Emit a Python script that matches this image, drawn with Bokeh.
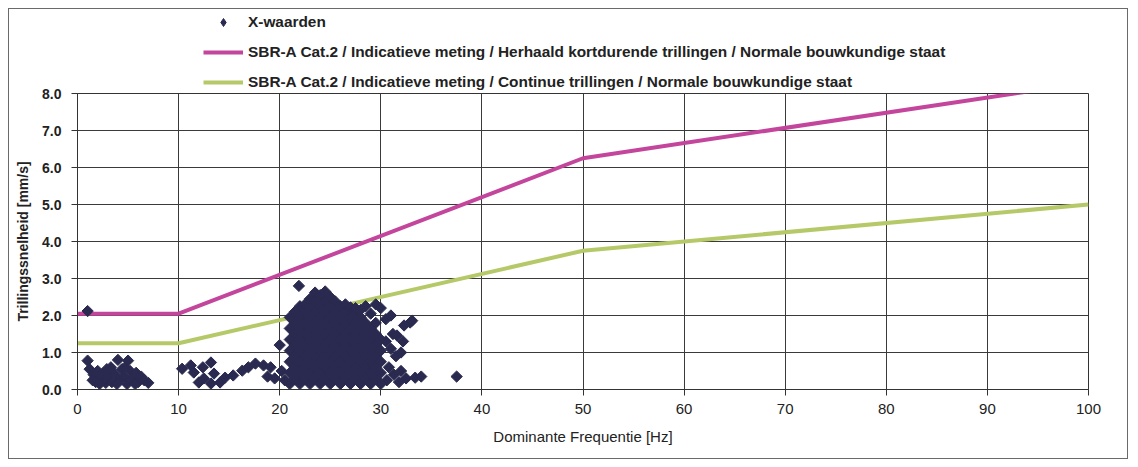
import math
from bokeh.plotting import figure
from bokeh.layouts import column
from bokeh.models import Legend, LegendItem, FixedTicker, NumeralTickFormatter, Range1d
from bokeh.embed import file_html
from bokeh.resources import INLINE

# Scatter data: dominant frequency [Hz], velocity [mm/s]
low_freq = [1.0, 1.0, 1.2, 1.6, 1.8, 2.0, 2.3, 2.6, 2.8, 3.0, 3.3, 3.4, 3.7, 4.0, 4.1, 4.4,
            4.6, 4.9, 5.0, 5.2, 5.5, 5.8, 6.0, 6.3, 6.6, 7.0, 2.2, 3.9, 5.7, 1.5, 2.9, 4.7]
low_vel = [2.12, 0.78, 0.55, 0.40, 0.20, 0.50, 0.30, 0.45, 0.18, 0.35, 0.60, 0.20, 0.42, 0.80, 0.25, 0.55,
           0.35, 0.15, 0.78, 0.50, 0.30, 0.45, 0.20, 0.35, 0.25, 0.18, 0.15, 0.15, 0.15, 0.25, 0.55, 0.60]

mid_freq = [10.35, 11.2, 11.5, 12.4, 13.2, 12.5, 13.5, 14.1, 14.6, 15.4, 16.3, 16.9, 17.6,
            18.4, 19.1, 12.0, 13.2, 18.8, 19.5, 20.2, 20.5, 20.0]
mid_vel = [0.56, 0.65, 0.46, 0.60, 0.73, 0.30, 0.43, 0.19, 0.32, 0.38, 0.51, 0.60, 0.70,
           0.65, 0.60, 0.19, 0.16, 0.35, 0.30, 0.50, 0.25, 1.20]

# Dense cluster, column by column: (frequency, velocities)
cluster = [
    (21.0, [0.15, 0.45, 0.75, 1.05, 1.35, 1.65, 1.95]),
    (21.5, [0.30, 0.60, 0.90, 1.20, 1.50, 1.80, 2.10]),
    (21.9, [2.80]),
    (22.0, [0.15, 0.45, 0.75, 1.05, 1.35, 1.65, 1.95, 2.25]),
    (22.5, [0.30, 0.60, 0.90, 1.20, 1.50, 1.80, 2.10, 2.30]),
    (23.0, [0.15, 0.45, 0.75, 1.05, 1.35, 1.65, 1.95, 2.25, 2.45]),
    (23.5, [0.30, 0.60, 0.90, 1.20, 1.50, 1.80, 2.10, 2.40, 2.62]),
    (24.0, [0.15, 0.45, 0.75, 1.05, 1.35, 1.65, 1.95, 2.25, 2.55]),
    (24.5, [0.30, 0.60, 0.90, 1.20, 1.50, 1.80, 2.10, 2.40, 2.65]),
    (25.0, [0.15, 0.45, 0.75, 1.05, 1.35, 1.65, 1.95, 2.25, 2.50]),
    (25.5, [0.30, 0.60, 0.90, 1.20, 1.50, 1.80, 2.10, 2.38]),
    (26.0, [0.15, 0.45, 0.75, 1.05, 1.35, 1.65, 1.95, 2.25]),
    (26.5, [0.30, 0.60, 0.90, 1.20, 1.50, 1.80, 2.10, 2.30]),
    (27.0, [0.15, 0.45, 0.75, 1.05, 1.35, 1.65, 1.95, 2.22]),
    (27.5, [0.30, 0.60, 0.90, 1.20, 1.50, 1.80, 2.10, 2.20]),
    (28.0, [0.15, 0.45, 0.75, 1.05, 1.35, 1.65, 1.95, 2.15]),
    (28.5, [0.30, 0.60, 0.90, 1.20, 1.50, 1.80, 2.25]),
    (29.0, [0.15, 0.45, 0.75, 1.05, 1.35, 1.65, 2.05]),
    (29.5, [0.30, 0.60, 0.90, 1.20, 1.50, 1.80, 2.30]),
    (30.0, [0.15, 0.45, 0.75, 1.05, 1.35, 2.20]),
]

high_freq = [30.5, 31.0, 31.2, 31.6, 32.9, 33.1, 32.3, 31.0, 31.5, 32.0, 30.8, 31.3, 32.0,
             32.5, 33.4, 34.0, 30.6, 31.8, 30.5, 32.2, 37.5]
high_vel = [1.90, 2.00, 1.50, 1.46, 1.81, 1.86, 1.73, 1.10, 0.90, 1.00, 0.60, 0.40, 0.50,
            0.30, 0.32, 0.35, 0.25, 0.20, 1.30, 1.30, 0.35]

# Guide lines (SBR-A Cat.2)
line_freq = [0, 10, 50, 100]
herhaald = [2.05, 2.05, 6.25, 8.3]
continue_ = [1.25, 1.25, 3.75, 5.0]

x_ticks = [0, 10, 20, 30, 40, 50, 60, 70, 80, 90, 100]
y_ticks = [0, 1, 2, 3, 4, 5, 6, 7, 8]

label_x = "X-waarden"
label_h = "SBR-A Cat.2 / Indicatieve meting / Herhaald kortdurende trillingen / Normale bouwkundige staat"
label_c = "SBR-A Cat.2 / Indicatieve meting / Continue trillingen / Normale bouwkundige staat"

freq = low_freq + mid_freq + high_freq
velocity = low_vel + mid_vel + high_vel
for fx, ys in cluster:
    for vy in ys:
        freq.append(fx)
        velocity.append(vy)

mag = "#c4459c"
grn = "#b6c969"
navy = "#2a2a50"

# ---- legend strip (above the chart) ----
leg = figure(
    width=1118, height=90, output_backend="svg", toolbar_location=None,
    x_range=Range1d(0, 1), y_range=Range1d(0, 1),
    x_axis_type=None, y_axis_type=None,
    min_border=0, min_border_left=0, min_border_right=0, min_border_top=0, min_border_bottom=0,
)
leg.outline_line_color = None
leg.background_fill_color = "white"
leg.border_fill_color = "white"
# legend-only renderers (their single point lies outside the visible range)
l_s = leg.scatter(x=[-5], y=[-5], marker="diamond", size=12, fill_color=navy, line_color=navy)
l_h = leg.line(x=[-5, -4], y=[-5, -5], line_color=mag, line_width=4)
l_c = leg.line(x=[-5, -4], y=[-5, -5], line_color=grn, line_width=4)

legend = Legend(
    items=[
        LegendItem(label=label_x, renderers=[l_s]),
        LegendItem(label=label_h, renderers=[l_h]),
        LegendItem(label=label_c, renderers=[l_c]),
    ],
    location=(126, 7),
    orientation="vertical",
    glyph_width=40, glyph_height=20, spacing=10, padding=0, margin=0,
    label_standoff=5,
    label_text_font="Liberation Sans",
    label_text_font_size="15.4px",
    label_text_font_style="bold",
    label_text_color="#222222",
    border_line_alpha=0, background_fill_alpha=0,
)
leg.add_layout(legend, "center")

# ---- main chart ----
p = figure(
    width=1118, height=373, output_backend="svg", toolbar_location=None,
    x_range=Range1d(0, 100), y_range=Range1d(0, 8),
    min_border_left=68, min_border_right=39, min_border_top=8, min_border_bottom=69,
)
p.margin = (-14, 0, 0, 0)
p.background_fill_color = "white"
p.border_fill_color = "white"
p.border_fill_alpha = 0
p.outline_line_color = "#333333"

p.line(line_freq, herhaald, line_color=mag, line_width=4)
p.line(line_freq, continue_, line_color=grn, line_width=4)
p.scatter(freq, velocity, marker="square", size=8, angle=math.pi / 4,
          fill_color=navy, line_color=navy, line_width=1)

p.xaxis.ticker = FixedTicker(ticks=x_ticks)
p.yaxis.ticker = FixedTicker(ticks=y_ticks)
p.yaxis.formatter = NumeralTickFormatter(format="0.0")
p.xgrid.ticker = FixedTicker(ticks=x_ticks)
p.ygrid.ticker = FixedTicker(ticks=y_ticks)
for g in (p.xgrid, p.ygrid):
    g.grid_line_color = "#3a3a3a"
    g.grid_line_width = 1

for ax in (p.xaxis, p.yaxis):
    ax.axis_line_color = "#333333"
    ax.major_tick_line_color = "#333333"
    ax.major_tick_out = 6
    ax.major_tick_in = 0
    ax.minor_tick_line_color = None
    ax.major_label_text_color = "#222222"
    ax.axis_label_text_color = "#222222"
    ax.axis_label_text_font_style = "normal"

p.xaxis.axis_label = "Dominante Frequentie [Hz]"
p.xaxis.major_label_text_font = "Liberation Sans"
p.xaxis.major_label_text_font_size = "15px"
p.xaxis.axis_label_text_font = "Liberation Sans"
p.xaxis.axis_label_text_font_size = "15px"
p.xaxis.major_label_standoff = 8
p.xaxis.axis_label_standoff = 11

p.yaxis.axis_label = "Trillingssnelheid [mm/s]"
p.yaxis.major_label_text_font = "Liberation Sans"
p.yaxis.major_label_text_font_style = "bold"
p.yaxis.major_label_text_font_size = "14px"
p.yaxis.axis_label_text_font = "Liberation Sans"
p.yaxis.axis_label_text_font_style = "bold"
p.yaxis.axis_label_text_font_size = "14px"
p.yaxis.major_label_standoff = 10
p.yaxis.axis_label_standoff = 8

layout = column(leg, p, spacing=0)
layout.styles = {"border": "1px solid #6a6a6a", "margin-left": "8px", "margin-top": "8px"}

open("out.html", "w").write(file_html(layout, INLINE))
